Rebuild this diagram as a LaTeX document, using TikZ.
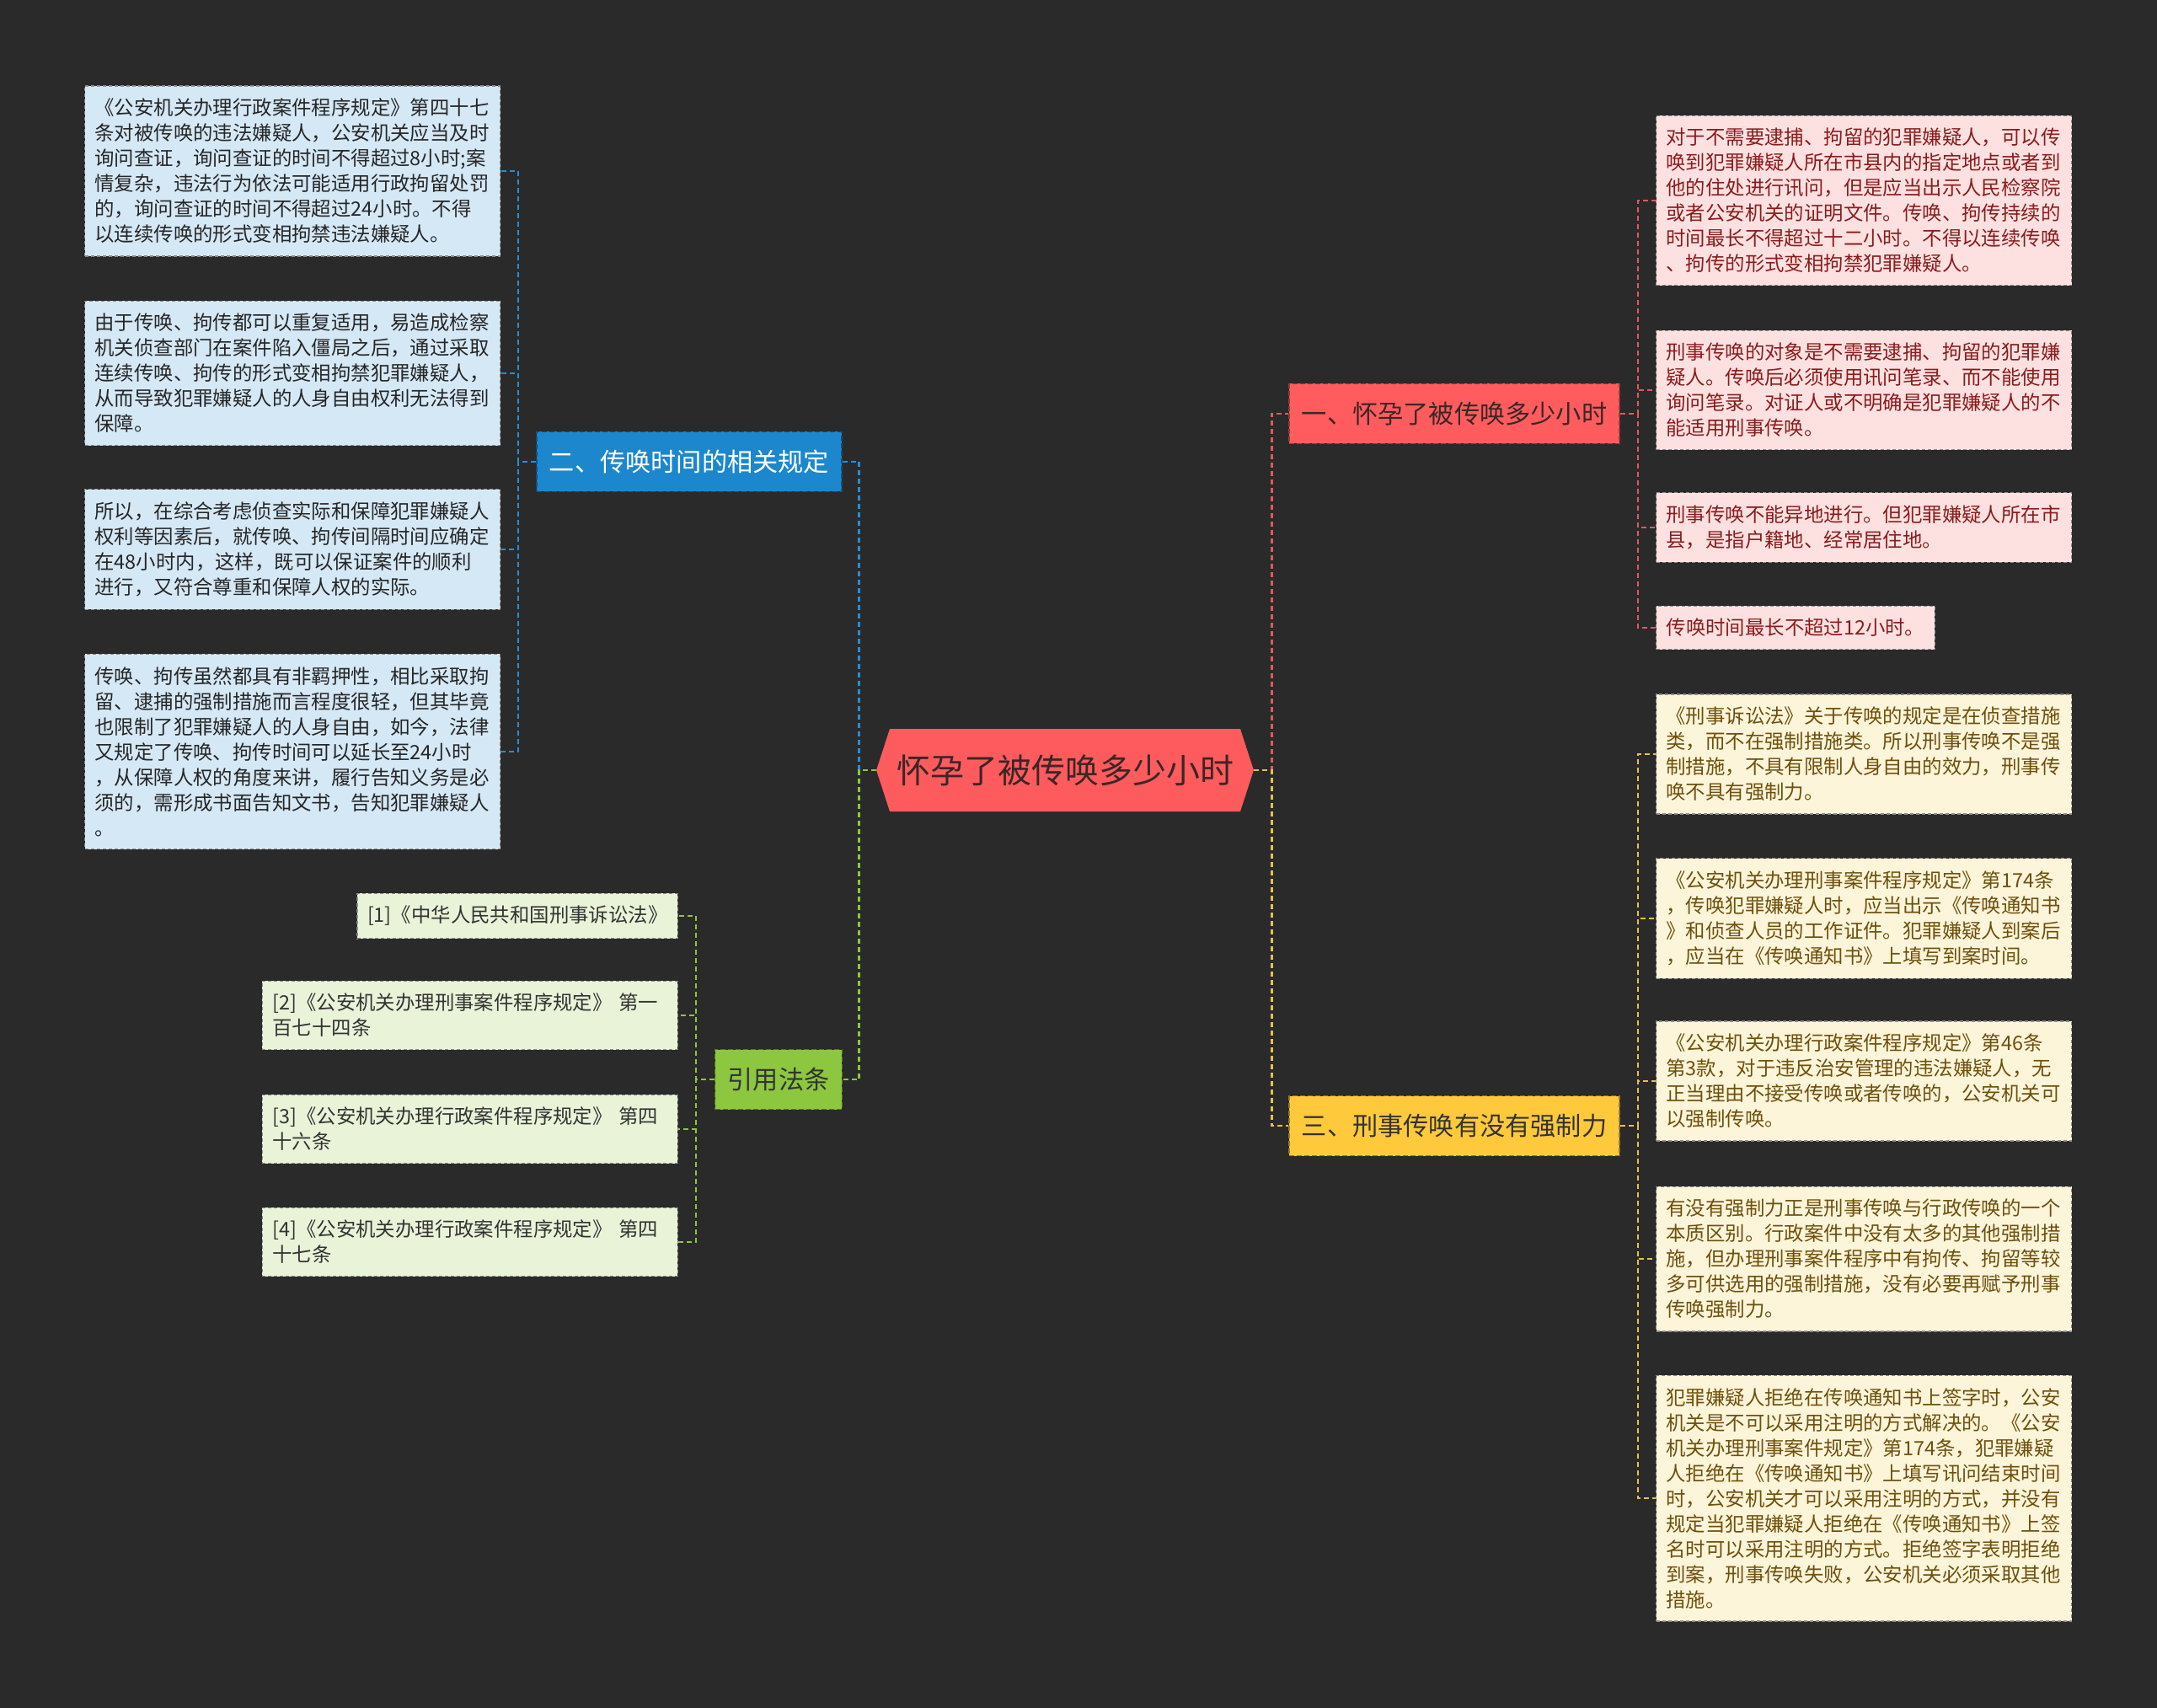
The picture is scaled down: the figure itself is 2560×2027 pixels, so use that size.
\documentclass[tikz,border=0pt]{standalone}
\usepackage{fontspec}
\setmainfont{Noto Sans CJK SC}
\usepackage{xcolor}
\usepackage{tikz}
\usetikzlibrary{shapes.symbols}

\definecolor{bgdark}{HTML}{2A2A2A}
\definecolor{rootred}{HTML}{FE5B5E}
\definecolor{rootink}{HTML}{3B2626}
\definecolor{blueb}{HTML}{1C87CD}
\definecolor{bluel}{HTML}{D5E8F6}
\definecolor{bluelink}{HTML}{2A8CD3}
\definecolor{redb}{HTML}{FF5C5F}
\definecolor{redl}{HTML}{FDE1E1}
\definecolor{redink}{HTML}{8A1C1C}
\definecolor{redlink}{HTML}{E0595C}
\definecolor{yellowb}{HTML}{FFC93C}
\definecolor{yellowl}{HTML}{FDF5DA}
\definecolor{yellowink}{HTML}{6E500C}
\definecolor{yellowlink}{HTML}{E8C04A}
\definecolor{greenb}{HTML}{8DC63F}
\definecolor{greenl}{HTML}{E9F3D8}
\definecolor{greenlink}{HTML}{8DC63F}

\tikzset{
  leaf/.style={draw=black!45, dash pattern=on 2pt off 1.5pt, line width=0.6pt,
    inner xsep=6pt, inner ysep=7.5pt, align=left,
    font=\fontsize{11.7}{15}\selectfont},
  wide/.style={text width=234.5pt},
  branch/.style={dash pattern=on 3pt off 1.5pt, line width=0.8pt,
    minimum height=35.5pt, inner xsep=7.5pt,
    font=\fontsize{15.1}{18}\selectfont},
  link/.style={dash pattern=on 3pt off 2pt, line width=1.2pt},
}

\begin{document}
\begin{tikzpicture}[x=0.5pt,y=-0.5pt]
        \useasboundingbox (0,0) rectangle (2560,2027);
        \fill[bgdark] (0,0) rectangle (2560,2027);

        % centre
        \node[signal, signal to=west and east, signal pointer angle=144,
              fill=rootred, text=rootink, minimum height=49pt, inner xsep=4pt,
              font=\fontsize{20}{24}\selectfont] (root) at (1264,914) {怀孕了被传唤多少小时};

        % branches
        \node[branch, fill=blueb, draw=blueb!60!black, text=white] (b2) at (818,548) {二、传唤时间的相关规定};
        \node[branch, fill=greenb, draw=greenb!60!black, text=black!80] (law) at (924,1281) {引用法条};
        \node[branch, fill=redb, draw=redb!60!black, text=rootink] (b1) at (1726,491) {一、怀孕了被传唤多少小时};
        \node[branch, fill=yellowb, draw=yellowb!60!black, text=black!80] (b3) at (1726,1336) {三、刑事传唤有没有强制力};

        % blue leaves
        \node[leaf, wide, fill=bluel, text=black!85] (l1) at (347,203) {《公安机关办理行政案件程序规定》第四十七\\条对被传唤的违法嫌疑人，公安机关应当及时\\询问查证，询问查证的时间不得超过8小时;案\\情复杂，违法行为依法可能适用行政拘留处罚\\的，询问查证的时间不得超过24小时。不得\\以连续传唤的形式变相拘禁违法嫌疑人。};
        \node[leaf, wide, fill=bluel, text=black!85] (l2) at (347,443) {由于传唤、拘传都可以重复适用，易造成检察\\机关侦查部门在案件陷入僵局之后，通过采取\\连续传唤、拘传的形式变相拘禁犯罪嫌疑人，\\从而导致犯罪嫌疑人的人身自由权利无法得到\\保障。};
        \node[leaf, wide, fill=bluel, text=black!85] (l3) at (347,652) {所以，在综合考虑侦查实际和保障犯罪嫌疑人\\权利等因素后，就传唤、拘传间隔时间应确定\\在48小时内，这样，既可以保证案件的顺利\\进行，又符合尊重和保障人权的实际。};
        \node[leaf, wide, fill=bluel, text=black!85] (l4) at (347,892) {传唤、拘传虽然都具有非羁押性，相比采取拘\\留、逮捕的强制措施而言程度很轻，但其毕竟\\也限制了犯罪嫌疑人的人身自由，如今，法律\\又规定了传唤、拘传时间可以延长至24小时\\，从保障人权的角度来讲，履行告知义务是必\\须的，需形成书面告知文书，告知犯罪嫌疑人\\。};

        % green leaves
        \node[leaf, anchor=east, fill=greenl, text=black!80] (g1) at (805,1087) {[1]《中华人民共和国刑事诉讼法》};
        \node[leaf, wide, anchor=east, fill=greenl, text=black!80] (g2) at (805,1205) {[2]《公安机关办理刑事案件程序规定》 第一\\百七十四条};
        \node[leaf, wide, anchor=east, fill=greenl, text=black!80] (g3) at (805,1340) {[3]《公安机关办理行政案件程序规定》 第四\\十六条};
        \node[leaf, wide, anchor=east, fill=greenl, text=black!80] (g4) at (805,1474) {[4]《公安机关办理行政案件程序规定》 第四\\十七条};

        % red leaves
        \node[leaf, wide, fill=redl, text=redink] (r1) at (2212,238) {对于不需要逮捕、拘留的犯罪嫌疑人，可以传\\唤到犯罪嫌疑人所在市县内的指定地点或者到\\他的住处进行讯问，但是应当出示人民检察院\\或者公安机关的证明文件。传唤、拘传持续的\\时间最长不得超过十二小时。不得以连续传唤\\、拘传的形式变相拘禁犯罪嫌疑人。};
        \node[leaf, wide, fill=redl, text=redink] (r2) at (2212,463) {刑事传唤的对象是不需要逮捕、拘留的犯罪嫌\\疑人。传唤后必须使用讯问笔录、而不能使用\\询问笔录。对证人或不明确是犯罪嫌疑人的不\\能适用刑事传唤。};
        \node[leaf, wide, fill=redl, text=redink] (r3) at (2212,626) {刑事传唤不能异地进行。但犯罪嫌疑人所在市\\县，是指户籍地、经常居住地。};
        \node[leaf, anchor=west, fill=redl, text=redink] (r4) at (1965,745) {传唤时间最长不超过12小时。};

        % yellow leaves
        \node[leaf, wide, fill=yellowl, text=yellowink] (y1) at (2212,895) {《刑事诉讼法》关于传唤的规定是在侦查措施\\类，而不在强制措施类。所以刑事传唤不是强\\制措施，不具有限制人身自由的效力，刑事传\\唤不具有强制力。};
        \node[leaf, wide, fill=yellowl, text=yellowink] (y2) at (2212,1090) {《公安机关办理刑事案件程序规定》第174条\\，传唤犯罪嫌疑人时，应当出示《传唤通知书\\》和侦查人员的工作证件。犯罪嫌疑人到案后\\，应当在《传唤通知书》上填写到案时间。};
        \node[leaf, wide, fill=yellowl, text=yellowink] (y3) at (2212,1283) {《公安机关办理行政案件程序规定》第46条\\第3款，对于违反治安管理的违法嫌疑人，无\\正当理由不接受传唤或者传唤的，公安机关可\\以强制传唤。};
        \node[leaf, wide, fill=yellowl, text=yellowink] (y4) at (2212,1494) {有没有强制力正是刑事传唤与行政传唤的一个\\本质区别。行政案件中没有太多的其他强制措\\施，但办理刑事案件程序中有拘传、拘留等较\\多可供选用的强制措施，没有必要再赋予刑事\\传唤强制力。};
        \node[leaf, wide, fill=yellowl, text=yellowink] (y5) at (2212,1778) {犯罪嫌疑人拒绝在传唤通知书上签字时，公安\\机关是不可以采用注明的方式解决的。《公安\\机关办理刑事案件规定》第174条，犯罪嫌疑\\人拒绝在《传唤通知书》上填写讯问结束时间\\时，公安机关才可以采用注明的方式，并没有\\规定当犯罪嫌疑人拒绝在《传唤通知书》上签\\名时可以采用注明的方式。拒绝签字表明拒绝\\到案，刑事传唤失败，公安机关必须采取其他\\措施。};

        % links from the centre
        \draw[link, bluelink] (root.west) -- ++(-20,0) |- (b2.east);
        \draw[link, greenlink] (root.west) -- ++(-20,0) |- (law.east);
        \draw[link, redlink] (root.east) -- ++(21,0) |- (b1.west);
        \draw[link, yellowlink] (root.east) -- ++(21,0) |- (b3.west);

        % links to leaves
        \draw[link, bluelink] (b2.west) -- ++(-21,0) |- (l1.east);
        \draw[link, bluelink] (b2.west) -- ++(-21,0) |- (l2.east);
        \draw[link, bluelink] (b2.west) -- ++(-21,0) |- (l3.east);
        \draw[link, bluelink] (b2.west) -- ++(-21,0) |- (l4.east);
        \draw[link, greenlink] (law.west) -- ++(-22,0) |- (g1.east);
        \draw[link, greenlink] (law.west) -- ++(-22,0) |- (g2.east);
        \draw[link, greenlink] (law.west) -- ++(-22,0) |- (g3.east);
        \draw[link, greenlink] (law.west) -- ++(-22,0) |- (g4.east);
        \draw[link, redlink] (b1.east) -- ++(21,0) |- (r1.west);
        \draw[link, redlink] (b1.east) -- ++(21,0) |- (r2.west);
        \draw[link, redlink] (b1.east) -- ++(21,0) |- (r3.west);
        \draw[link, redlink] (b1.east) -- ++(21,0) |- (r4.west);
        \draw[link, yellowlink] (b3.east) -- ++(21,0) |- (y1.west);
        \draw[link, yellowlink] (b3.east) -- ++(21,0) |- (y2.west);
        \draw[link, yellowlink] (b3.east) -- ++(21,0) |- (y3.west);
        \draw[link, yellowlink] (b3.east) -- ++(21,0) |- (y4.west);
        \draw[link, yellowlink] (b3.east) -- ++(21,0) |- (y5.west);
\end{tikzpicture}
\end{document}
